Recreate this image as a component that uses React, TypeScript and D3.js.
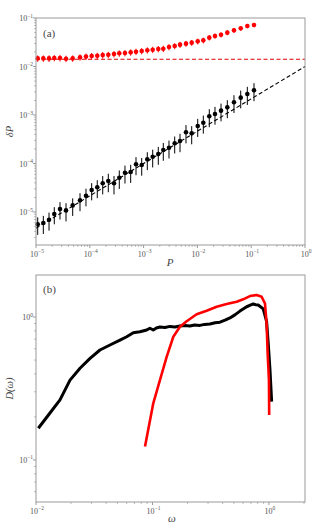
import React from "react";
import { scaleLog, line } from "d3";

// ---- panel (a) data ----
const P = [1.076e-5, 1.368e-5, 1.746e-5, 2.188e-5, 2.793e-5, 3.614e-5, 4.808e-5, 6.577e-5, 8.492e-5, 1.084e-4,
  1.377e-4, 1.738e-4, 2.208e-4, 2.818e-4, 3.532e-4, 4.508e-4, 5.754e-4, 7.228e-4, 9.226e-4, 1.172e-3,
  1.476e-3, 1.875e-3, 2.323e-3, 2.965e-3, 3.784e-3, 4.753e-3, 6.138e-3, 7.834e-3, 1.014e-2, 1.288e-2,
  1.663e-2, 2.123e-2, 2.748e-2, 3.597e-2, 4.786e-2, 6.383e-2, 8.472e-2, 1.127e-1];
const deltaRed = [0.0147, 0.0147, 0.0147, 0.0150, 0.0150, 0.0145, 0.0147, 0.0155, 0.0160, 0.0165,
  0.0167, 0.0172, 0.0175, 0.0181, 0.0187, 0.0190, 0.0196, 0.0202, 0.0209, 0.0216,
  0.0222, 0.0230, 0.0233, 0.0252, 0.0265, 0.0282, 0.0296, 0.0310, 0.0330, 0.0346,
  0.0393, 0.0426, 0.0453, 0.0499, 0.0557, 0.0612, 0.0684, 0.0718];
const errRed = [0.0022, 0.0022, 0.0023, 0.0022, 0.0023, 0.0022, 0.0022, 0.0023, 0.0024, 0.0025,
  0.0025, 0.0026, 0.0026, 0.0027, 0.0028, 0.0028, 0.0029, 0.0030, 0.0031, 0.0032,
  0.0033, 0.0034, 0.0035, 0.0037, 0.0038, 0.0040, 0.0041, 0.0043, 0.0045, 0.0047,
  0.0050, 0.0053, 0.0055, 0.0058, 0.0062, 0.0066, 0.0070, 0.0072];
const deltaBlack = [5.57e-6, 5.93e-6, 6.93e-6, 9.09e-6, 1.15e-5, 1.08e-5, 1.37e-5, 1.74e-5, 2.17e-5, 2.84e-5,
  3.23e-5, 3.91e-5, 4.36e-5, 3.91e-5, 5.09e-5, 6.46e-5, 6.68e-5, 9.63e-5, 9.31e-5, 1.22e-4,
  1.38e-4, 1.57e-4, 1.90e-4, 2.12e-4, 2.61e-4, 2.91e-4, 4.40e-4, 4.19e-4, 5.93e-4, 6.93e-4,
  9.40e-4, 1.05e-3, 1.23e-3, 1.44e-3, 1.83e-3, 2.28e-3, 2.71e-3, 3.23e-3];
const errBlack = [2.2e-6, 2.4e-6, 2.8e-6, 3.5e-6, 4.5e-6, 4.4e-6, 5.4e-6, 7.0e-6, 8.6e-6, 1.1e-5,
  1.3e-5, 1.6e-5, 1.8e-5, 1.6e-5, 2.1e-5, 2.6e-5, 2.7e-5, 3.9e-5, 3.7e-5, 4.9e-5,
  5.5e-5, 6.3e-5, 7.6e-5, 8.5e-5, 1.0e-4, 1.2e-4, 1.8e-4, 1.7e-4, 2.4e-4, 2.8e-4,
  3.8e-4, 4.2e-4, 4.9e-4, 5.8e-4, 7.3e-4, 9.1e-4, 1.1e-3, 1.3e-3];
const redLevel = 0.0141;
const fitP = [1e-5, 1];
const fitBlack = [4.64e-6, 1e-2];

// ---- panel (b) data ----
const omegaBlack = [0.01047, 0.01318, 0.01607, 0.01959, 0.02387, 0.02911, 0.0354, 0.04317, 0.0526, 0.0601,
  0.0684, 0.0781, 0.0892, 0.0950, 0.1016, 0.1080, 0.1159, 0.1280, 0.1413, 0.1560, 0.1722, 0.1900, 0.2099,
  0.2300, 0.2557, 0.2800, 0.3117, 0.3450, 0.3797, 0.4200, 0.4628, 0.5100, 0.5638, 0.6437, 0.7000, 0.7335,
  0.7700, 0.8094, 0.8933, 0.9552, 0.9863, 1.021, 1.055];
const DBlack = [0.1667, 0.213, 0.263, 0.362, 0.438, 0.514, 0.588, 0.637, 0.69, 0.728,
  0.777, 0.789, 0.812, 0.835, 0.811, 0.838, 0.852, 0.846, 0.860, 0.852, 0.866, 0.872, 0.866,
  0.880, 0.874, 0.888, 0.894, 0.912, 0.920, 0.950, 0.985, 1.035, 1.100, 1.180, 1.215, 1.233,
  1.220, 1.213, 1.140, 0.93, 0.655, 0.426, 0.256];
const omegaRed = [0.0863, 0.1016, 0.1159, 0.1324, 0.151, 0.1722, 0.1966, 0.2395, 0.2919, 0.3556,
  0.4335, 0.5284, 0.6012, 0.6866, 0.784, 0.865, 0.9243, 0.9552, 0.975, 1.0, 1.005];
const DRed = [0.124, 0.249, 0.362, 0.527, 0.728, 0.855, 0.935, 1.045, 1.107, 1.181,
  1.233, 1.279, 1.33, 1.402, 1.425, 1.387, 1.247, 0.904, 0.557, 0.362, 0.206];

const W = 314;
const H = 531;
const font = "'Liberation Serif', 'DejaVu Serif', serif";
const axisColor = "#9a9a9a";
const labelColor = "#555";

function minorTicks(domain: number[]) {
  const out: number[] = [];
  const lo = Math.floor(Math.log10(domain[0]));
  const hi = Math.ceil(Math.log10(domain[1]));
  for (let d = lo; d <= hi; d++) {
    for (let k = 2; k <= 9; k++) {
      const v = k * Math.pow(10, d);
      if (v >= domain[0] && v <= domain[1]) out.push(v);
    }
  }
  return out;
}

function Pow10({ x, y, exp, anchor }: { x: number; y: number; exp: number; anchor: string }) {
  const s = exp < 0 ? "\u2212" + Math.abs(exp) : String(exp);
  return (
    <text x={x} y={y} textAnchor={anchor} fontFamily={font} fontSize={8} fill={labelColor}>
      10<tspan dy={-3.5} fontSize={5.5}>{s}</tspan>
    </text>
  );
}

function Frame({ x0, x1, y0, y1, xs, ys, xMajors, yMajors }: any) {
  const xMin = minorTicks(xs.domain());
  const yMin = minorTicks(ys.domain());
  return (
    <g>
      <rect x={x0} y={y0} width={x1 - x0} height={y1 - y0} fill="none" stroke={axisColor} strokeWidth={1} />
      {xMajors.map((e: number) => {
        const x = xs(Math.pow(10, e));
        return (
          <g key={"xm" + e}>
            <line x1={x} x2={x} y1={y1} y2={y1 + 3} stroke={axisColor} />
            <Pow10 x={x + 1} y={y1 + 11.5} exp={e} anchor="middle" />
          </g>
        );
      })}
      {xMin.map((v: number, i: number) => (
        <line key={"xn" + i} x1={xs(v)} x2={xs(v)} y1={y1} y2={y1 + 1.8} stroke={axisColor} strokeWidth={0.8} />
      ))}
      {yMajors.map((e: number) => {
        const y = ys(Math.pow(10, e));
        return (
          <g key={"ym" + e}>
            <line x1={x0 - 3} x2={x0} y1={y} y2={y} stroke={axisColor} />
            <Pow10 x={x0 - 3} y={y + 3} exp={e} anchor="end" />
          </g>
        );
      })}
      {yMin.map((v: number, i: number) => (
        <line key={"yn" + i} x1={x0 - 1.8} x2={x0} y1={ys(v)} y2={ys(v)} stroke={axisColor} strokeWidth={0.8} />
      ))}
    </g>
  );
}

export default function App() {
  // panel (a)
  const ax0 = 36, ax1 = 305, ay0 = 18, ay1 = 245;
  const xa = scaleLog().domain([1e-5, 1]).range([ax0, ax1]);
  const ya = scaleLog().domain([2.09e-6, 0.1]).range([ay1, ay0]);

  // panel (b)
  const bx0 = 36, bx1 = 305, by0 = 275, by1 = 502;
  const xb = scaleLog().domain([0.01, 2.04]).range([bx0, bx1]);
  const yb = scaleLog().domain([0.0508, 1.968]).range([by1, by0]);

  const lineB = line<[number, number]>().x(d => xb(d[0])).y(d => yb(d[1]));
  const blackPts = omegaBlack.map((w, i) => [w, DBlack[i]] as [number, number]);
  const redPts = omegaRed.map((w, i) => [w, DRed[i]] as [number, number]);

  const clampA = (v: number) => Math.max(v, ya.domain()[0]);

  return (
    <svg width={W} height={H} style={{ position: "absolute", left: 0, top: 0, background: "#fff" }}>
      {/* panel (a) */}
      <line x1={ax0} x2={ax1} y1={ya(redLevel)} y2={ya(redLevel)} stroke="#e00000" strokeWidth={1.1} strokeDasharray="4,2.5" />
      <line x1={xa(fitP[0])} x2={xa(fitP[1])} y1={ya(fitBlack[0])} y2={ya(fitBlack[1])} stroke="#000" strokeWidth={1.1} strokeDasharray="4,2.5" />
      {P.map((p, i) => (
        <g key={"r" + i}>
          <line x1={xa(p)} x2={xa(p)} y1={ya(deltaRed[i] + errRed[i])} y2={ya(clampA(deltaRed[i] - errRed[i]))} stroke="#ff0000" strokeWidth={1} />
          <circle cx={xa(p)} cy={ya(deltaRed[i])} r={2.3} fill="#ff0000" />
        </g>
      ))}
      {P.map((p, i) => (
        <g key={"b" + i}>
          <line x1={xa(p)} x2={xa(p)} y1={ya(deltaBlack[i] + errBlack[i])} y2={ya(clampA(deltaBlack[i] - errBlack[i]))} stroke="#000" strokeWidth={1} />
          <circle cx={xa(p)} cy={ya(deltaBlack[i])} r={2.3} fill="#000" />
        </g>
      ))}
      <Frame x0={ax0} x1={ax1} y0={ay0} y1={ay1} xs={xa} ys={ya} xMajors={[-5, -4, -3, -2, -1, 0]} yMajors={[-5, -4, -3, -2, -1]} />
      <text x={43} y={37} fontFamily={font} fontSize={11} fill="#444">(a)</text>
      <text x={170} y={266} fontFamily={font} fontSize={11} fontStyle="italic" fill="#444" textAnchor="middle">P</text>
      <text transform={`translate(13,${(ay0 + ay1) / 2}) rotate(-90)`} fontFamily={font} fontSize={10.5} fontStyle="italic" fill="#444" textAnchor="middle">δP</text>

      {/* panel (b) */}
      <path d={lineB(blackPts) || ""} fill="none" stroke="#000" strokeWidth={3} strokeLinejoin="round" />
      <path d={lineB(redPts) || ""} fill="none" stroke="#ff0000" strokeWidth={2.6} strokeLinejoin="round" />
      <Frame x0={bx0} x1={bx1} y0={by0} y1={by1} xs={xb} ys={yb} xMajors={[-2, -1, 0]} yMajors={[-1, 0]} />
      <text x={43} y={293} fontFamily={font} fontSize={11} fill="#444">(b)</text>
      <text x={172} y={522} fontFamily={font} fontSize={11} fontStyle="italic" fill="#444" textAnchor="middle">ω</text>
      <text transform={`translate(13,${(by0 + by1) / 2}) rotate(-90)`} fontFamily={font} fontSize={10.5} fontStyle="italic" fill="#444" textAnchor="middle">D(ω)</text>
    </svg>
  );
}
